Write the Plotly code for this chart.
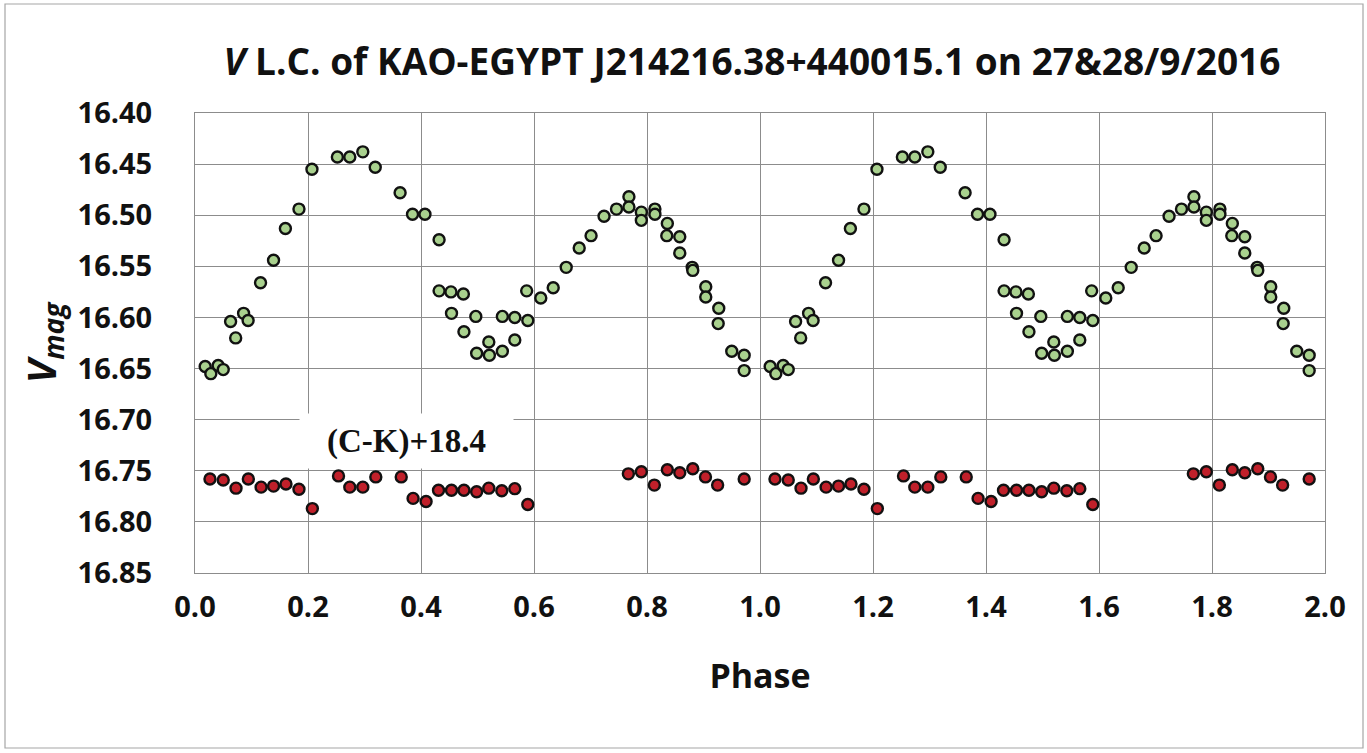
import plotly.graph_objects as go

# Target star (V) — phase 0..1 (plotted twice: phase and phase+1)
v_phase = [0.018, 0.028, 0.041, 0.050, 0.063, 0.072, 0.086, 0.094, 0.116, 0.139,
           0.160, 0.184, 0.207, 0.252, 0.274, 0.297, 0.319, 0.363, 0.385, 0.407,
           0.432, 0.432, 0.453, 0.454, 0.475, 0.476, 0.497, 0.4985, 0.520, 0.521,
           0.544, 0.544, 0.566, 0.566, 0.587, 0.589, 0.612, 0.634, 0.657, 0.680,
           0.701, 0.724, 0.746, 0.768, 0.768, 0.790, 0.790, 0.814, 0.814, 0.836,
           0.835, 0.858, 0.858, 0.880, 0.881, 0.904, 0.904, 0.927, 0.926, 0.950,
           0.972, 0.972]
v_mag = [16.648, 16.655, 16.647, 16.651, 16.604, 16.620, 16.596, 16.603, 16.566, 16.544,
         16.513, 16.494, 16.455, 16.443, 16.443, 16.438, 16.453, 16.478, 16.499, 16.499,
         16.524, 16.574, 16.575, 16.596, 16.577, 16.614, 16.599, 16.635, 16.624, 16.637,
         16.633, 16.599, 16.600, 16.622, 16.574, 16.603, 16.581, 16.571, 16.551, 16.532,
         16.520, 16.501, 16.494, 16.482, 16.492, 16.497, 16.505, 16.494, 16.499, 16.508,
         16.520, 16.521, 16.537, 16.551, 16.554, 16.570, 16.580, 16.591, 16.606, 16.633,
         16.637, 16.652]

# Check star (C-K)+18.4
ck_phase = [0.0265, 0.050, 0.0726, 0.0944, 0.117, 0.139, 0.161, 0.184, 0.2077, 0.254,
            0.274, 0.297, 0.320, 0.365, 0.386, 0.409, 0.431, 0.454, 0.476, 0.4985,
            0.520, 0.543, 0.566, 0.589, 0.767, 0.790, 0.813, 0.836, 0.858, 0.881,
            0.9035, 0.925, 0.972]
ck_mag = [16.758, 16.759, 16.767, 16.758, 16.766, 16.765, 16.763, 16.768, 16.787, 16.755,
          16.766, 16.766, 16.756, 16.756, 16.777, 16.780, 16.769, 16.769, 16.769, 16.7705,
          16.767, 16.7695, 16.7675, 16.783, 16.753, 16.751, 16.764, 16.749, 16.752, 16.748,
          16.756, 16.764, 16.758]

x_ticks = [0.0, 0.2, 0.4, 0.6, 0.8, 1.0, 1.2, 1.4, 1.6, 1.8, 2.0]
y_ticks = [16.40, 16.45, 16.50, 16.55, 16.60, 16.65, 16.70, 16.75, 16.80, 16.85]

title_text = "<b><i>V</i> L.C. of KAO-EGYPT J214216.38+440015.1 on 27&amp;28/9/2016</b>"
ck_label = "(C-K)+18.4"

FONT = "Open Sans"
GRID = "#8c8c8c"
INK = "#111111"

fig = go.Figure()
fig.add_trace(go.Scatter(
    x=v_phase + [p + 1 for p in v_phase], y=v_mag + v_mag,
    mode="markers", name="V",
    marker=dict(size=11, color="#a9d18e", line=dict(color=INK, width=2.4)),
))
fig.add_trace(go.Scatter(
    x=ck_phase + [p + 1 for p in ck_phase], y=ck_mag + ck_mag,
    mode="markers", name="C-K",
    marker=dict(size=11, color="#c0202a", line=dict(color=INK, width=2.4)),
))

fig.update_layout(
    width=1367, height=753,
    margin=dict(l=195, r=42, t=113, b=180),
    paper_bgcolor="white", plot_bgcolor="white",
    showlegend=False,
    font=dict(family=FONT, color=INK, size=16),
    title=dict(text=title_text, x=(752 - 195) / 1130, xref="paper", xanchor="center",
               y=1 - 62 / 753, yanchor="middle",
               font=dict(family=FONT, size=37, color=INK)),
    xaxis=dict(range=[0, 2], tickvals=x_ticks, ticktext=[f"<b>{v:.1f}</b>" for v in x_ticks],
               showgrid=True, gridcolor=GRID, gridwidth=1, zeroline=False,
               showline=True, linecolor=GRID, linewidth=1, mirror=True,
               ticks="outside", ticklen=8, tickcolor="rgba(0,0,0,0)",
               tickfont=dict(family=FONT, size=29, color=INK),
               title=dict(text="<b>Phase</b>", font=dict(family=FONT, size=34, color=INK), standoff=40)),
    yaxis=dict(range=[16.85, 16.40], tickvals=y_ticks, ticktext=[f"<b>{v:.2f}</b>" for v in y_ticks],
               showgrid=True, gridcolor=GRID, gridwidth=1, zeroline=False,
               showline=True, linecolor=GRID, linewidth=1, mirror=True,
               ticks="outside", ticklen=36, tickcolor="rgba(0,0,0,0)",
               tickfont=dict(family=FONT, size=29, color=INK),
               title=dict(text="<b><i>V<sub>mag</sub></i></b>", font=dict(family=FONT, size=40, color=INK), standoff=8)),
)

fig.add_annotation(
    text=f"<b>{ck_label}</b>", x=0.375, y=16.721, xref="x", yref="y",
    showarrow=False, bgcolor="white", width=205, height=46, borderpad=4,
    font=dict(family="Liberation Serif", size=33, color=INK),
)

# outer chart frame
fig.add_shape(type="rect", xref="paper", yref="paper",
              x0=(5 - 195) / 1130, x1=(1363 - 195) / 1130,
              y0=(573 - 748) / 460, y1=(573 - 4) / 460,
              line=dict(color="#a6a6a6", width=1.2), fillcolor="rgba(0,0,0,0)", layer="below")

fig.write_html("out.html", config={"displayModeBar": False},
               post_script="document.body.style.margin='0';document.body.style.overflow='hidden';")
